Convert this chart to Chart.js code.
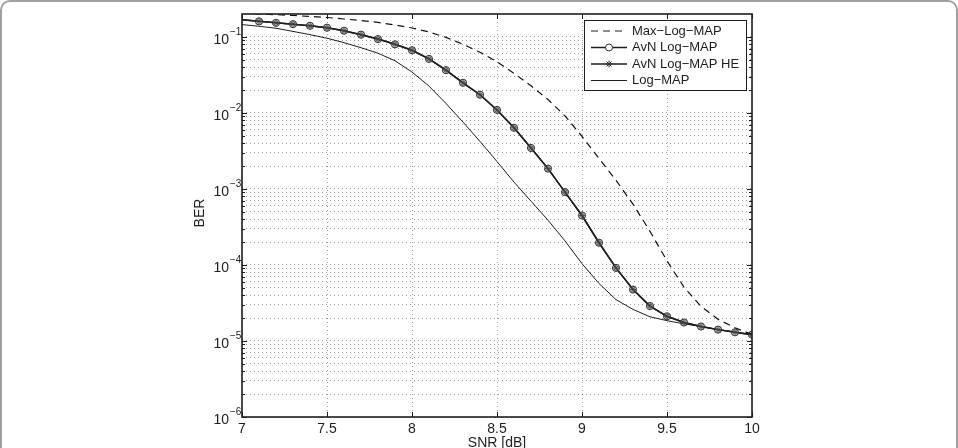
<!DOCTYPE html>
<html>
<head>
<meta charset="utf-8">
<title>BER vs SNR</title>
<script src="https://cdn.jsdelivr.net/npm/chart.js"></script>
<style>
body{margin:0;background:#fff;}
#c{position:absolute;left:0;top:0;}
#frame{position:absolute;left:0;top:0;width:958px;height:460px;box-sizing:border-box;border:2px solid #a0a0a0;border-radius:10px;pointer-events:none;}
</style>
</head>
<body>
<canvas id="c" width="958" height="448"></canvas>
<div id="frame"></div>
<script>
// SNR [dB] from 7 to 10 in steps of 0.1
var snr = [7.0,7.1,7.2,7.3,7.4,7.5,7.6,7.7,7.8,7.9,8.0,8.1,8.2,8.3,8.4,8.5,8.6,8.7,8.8,8.9,9.0,9.1,9.2,9.3,9.4,9.5,9.6,9.7,9.8,9.9,10.0];

var maxLogMap = [0.205,0.2,0.196,0.191,0.186,0.180,0.172,0.164,0.155,0.1435,0.131,0.116,0.0985,0.0798,0.0627,0.0471,0.0332,0.0227,0.0150,0.00914,
  0.0049,0.00252,0.0013,6.3e-4,2.77e-4,1.13e-4,5.1e-5,2.85e-5,1.93e-5,1.49e-5,1.22e-5];

var avnLogMap = [0.168,0.160,0.153,0.147,0.140,0.132,0.1205,0.107,0.0936,0.0798,0.0667,0.0513,0.0365,0.0249,0.01734,0.01094,0.00637,0.00346,0.00185,9.08e-4,
  4.47e-4,1.96e-4,9.14e-5,4.75e-5,2.88e-5,2.11e-5,1.75e-5,1.55e-5,1.41e-5,1.30e-5,1.21e-5];

var avnLogMapHE = [0.168,0.160,0.153,0.147,0.140,0.132,0.1205,0.107,0.0936,0.0798,0.0667,0.0513,0.0365,0.0249,0.01734,0.01094,0.00637,0.00346,0.00185,9.08e-4,
  4.47e-4,1.96e-4,9.14e-5,4.75e-5,2.88e-5,2.11e-5,1.75e-5,1.55e-5,1.41e-5,1.30e-5,1.21e-5];

var logMap = [0.145,0.138,0.130,0.118,0.107,0.096,0.084,0.072,0.061,0.0485,0.0345,0.0225,0.0133,0.00757,0.00421,0.00229,0.00123,6.9e-4,3.88e-4,2.07e-4,
  1.04e-4,5.7e-5,3.5e-5,2.6e-5,2.08e-5,1.85e-5,1.68e-5,1.55e-5,1.42e-5,1.31e-5,1.21e-5];

var xTicks = [7,7.5,8,8.5,9,9.5,10];
var yDecades = [-6,-5,-4,-3,-2,-1];
var legendNames = ['Max\u2212Log\u2212MAP','AvN Log\u2212MAP','AvN Log\u2212MAP HE','Log\u2212MAP'];

var FONT = '"Liberation Sans", Arial, sans-serif';
var INK = '#1e1e1e';

function pts(ys){ return snr.map(function(x,i){ return {x:x, y:ys[i]}; }); }

var matlabAxes = {
  id:'matlabAxes',
  afterDatasetsDraw: function(chart){
    var ctx = chart.ctx, a = chart.chartArea;
    var xs = chart.scales.x, ys = chart.scales.y;
    ctx.save();
    ctx.strokeStyle = INK;
    ctx.lineWidth = 1;
    // inward tick marks
    ctx.beginPath();
    xTicks.forEach(function(v){
      var px = Math.round(xs.getPixelForValue(v))+0.5;
      ctx.moveTo(px,a.bottom); ctx.lineTo(px,a.bottom-5);
      ctx.moveTo(px,a.top); ctx.lineTo(px,a.top+5);
    });
    ys.ticks.forEach(function(t){
      var py = Math.round(ys.getPixelForValue(t.value))+0.5;
      var m = t.value/Math.pow(10,Math.floor(Math.log10(t.value)+1e-9));
      var len = Math.abs(m-1)<1e-6 ? 5 : 3;
      ctx.moveTo(a.left,py); ctx.lineTo(a.left+len,py);
      ctx.moveTo(a.right,py); ctx.lineTo(a.right-len,py);
    });
    ctx.stroke();
    // box
    ctx.lineWidth = 1.6;
    ctx.strokeRect(a.left, a.top, a.right-a.left, a.bottom-a.top);
    ctx.restore();
  },
  afterDraw: function(chart){
    var ctx = chart.ctx, a = chart.chartArea;
    var ys = chart.scales.y;
    ctx.save();
    ctx.fillStyle = INK;
    // y tick labels 10^e
    yDecades.forEach(function(e){
      var py = ys.getPixelForValue(Math.pow(10,e));
      ctx.font = '14px '+FONT;
      ctx.textAlign = 'right'; ctx.textBaseline = 'middle';
      ctx.fillText('10', a.left-13, py+3);
      ctx.font = '10px '+FONT;
      ctx.textAlign = 'left';
      ctx.fillText('\u2212'+(-e), a.left-12, py-5);
    });
    // axis titles
    ctx.font = '14px '+FONT;
    ctx.textAlign = 'center'; ctx.textBaseline = 'top';
    ctx.fillText('SNR [dB]', (a.left+a.right)/2, 436);
    ctx.save();
    ctx.translate(200, 213);
    ctx.rotate(-Math.PI/2);
    ctx.textBaseline = 'middle';
    ctx.fillText('BER', 0, 0);
    ctx.restore();

    // legend
    var bx = 584.5, by = 20.5, bw = 162, bh = 70;
    ctx.fillStyle = '#fff';
    ctx.fillRect(bx,by,bw,bh);
    ctx.strokeStyle = INK; ctx.lineWidth = 1;
    ctx.strokeRect(bx,by,bw,bh);
    var rows = [31, 47.5, 64, 80.5];
    var sx0 = 591, sx1 = 627;
    chart.data.datasets.forEach(function(ds,i){
      var yy = rows[i];
      ctx.save();
      ctx.strokeStyle = INK;
      ctx.lineWidth = ds.borderWidth;
      ctx.setLineDash(ds.borderDash || []);
      ctx.beginPath(); ctx.moveTo(sx0,yy); ctx.lineTo(sx1,yy); ctx.stroke();
      ctx.setLineDash([]);
      if (ds.pointStyle && ds.legendMarker){
        ctx.fillStyle = '#fff';
        ctx.strokeStyle = '#333';
        ctx.lineWidth = 1;
        Chart.helpers.drawPoint(ctx, {pointStyle:ds.pointStyle, radius:3.5, borderWidth:1, rotation:0}, (sx0+sx1)/2, yy);
      }
      ctx.restore();
      ctx.fillStyle = INK;
      ctx.font = '13px '+FONT;
      ctx.textAlign = 'left'; ctx.textBaseline = 'middle';
      ctx.fillText(legendNames[i], 632, yy);
    });
    ctx.restore();
  }
};

var gridStyle = { color:'rgba(0,0,0,0.38)', lineWidth:1, drawTicks:false };

new Chart(document.getElementById('c'), {
  type:'line',
  data:{
    datasets:[
      { label:legendNames[0], data:pts(maxLogMap), borderColor:'#111', borderWidth:1.2, borderDash:[7,5],
        pointRadius:0, fill:false, clip:0 },
      { label:legendNames[1], data:pts(avnLogMap), borderColor:INK, borderWidth:1.5, backgroundColor:'rgba(0,0,0,0)',
        pointStyle:'circle', legendMarker:true, pointBorderColor:'#333', pointBackgroundColor:'rgba(120,120,120,0.35)', pointBorderWidth:1,
        pointRadius:function(c){ return c.dataIndex===0 ? 0 : 3.6; }, fill:false },
      { label:legendNames[2], data:pts(avnLogMapHE), borderColor:INK, borderWidth:1.5,
        pointStyle:'star', legendMarker:true, pointBorderColor:'#333', pointBorderWidth:1,
        pointRadius:function(c){ return c.dataIndex===0 ? 0 : 3.2; }, fill:false },
      { label:legendNames[3], data:pts(logMap), borderColor:INK, borderWidth:1, pointRadius:0, fill:false }
    ]
  },
  options:{
    responsive:false,
    animation:false,
    layout:{ padding:{ left:0, right:206, top:14, bottom:0 } },
    plugins:{ legend:{display:false}, tooltip:{enabled:false} },
    scales:{
      x:{
        type:'linear', min:7, max:10,
        afterBuildTicks:function(s){ s.ticks = xTicks.map(function(v){ return {value:v}; }); },
        afterFit:function(s){ s.height = 31; },
        ticks:{ color:INK, font:{family:FONT, size:14}, padding:4, maxRotation:0,
          callback:function(v){ return String(v); } },
        grid:gridStyle,
        border:{ display:false, dash:[1,3] }
      },
      y:{
        type:'logarithmic', min:1e-6, max:0.2,
        afterBuildTicks:function(s){
          var t = [];
          yDecades.forEach(function(e){
            for (var m=1;m<=9;m++){
              var v = m*Math.pow(10,e);
              if (v < 0.19) t.push({value:v});
            }
          });
          s.ticks = t;
        },
        afterFit:function(s){ s.width = 242; },
        ticks:{ display:false },
        grid:gridStyle,
        border:{ display:false, dash:[1,3] }
      }
    }
  },
  plugins:[matlabAxes]
});
</script>
</body>
</html>
